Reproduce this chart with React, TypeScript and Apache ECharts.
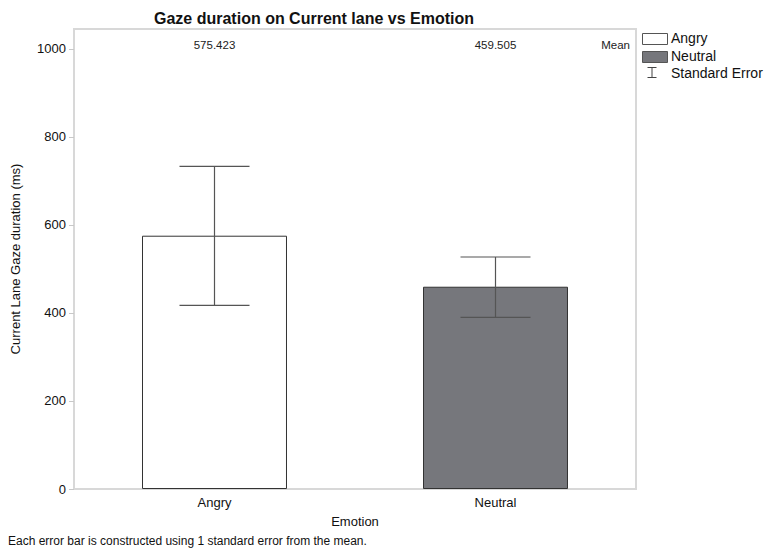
import React, { useEffect, useRef } from "react";
import * as echarts from "echarts";

const categories = ["Angry", "Neutral"];
const means = [575.423, 459.505];
const seUpper = [733, 527];
const seLower = [417, 390];
const barColors = ["#ffffff", "#76777c"];
const yTicks = [0, 200, 400, 600, 800, 1000];
const yMax = 1045;

const FONT = "Liberation Sans, Arial, Helvetica, sans-serif";

export default function App() {
  const ref = useRef<HTMLDivElement>(null);
  useEffect(() => {
    if (!ref.current) return;
    const chart = echarts.init(ref.current, null, { renderer: "svg" });
    const legendItems: any[] = [];
    categories.forEach((c, i) => {
      legendItems.push({
        type: "rect",
        left: 642,
        top: 33 + i * 18,
        shape: { width: 25, height: 11 },
        style: { fill: barColors[i], stroke: "#555", lineWidth: 1 },
      });
      legendItems.push({
        type: "text",
        left: 671,
        top: 31 + i * 18,
        style: { text: c, font: `14px ${FONT}`, fill: "#111" },
      });
    });
    legendItems.push({
      type: "group",
      left: 645,
      top: 65,
      children: [
        { type: "line", shape: { x1: 0, y1: 0, x2: 9, y2: 0 }, style: { stroke: "#444", lineWidth: 1 } },
        { type: "line", shape: { x1: 4.5, y1: 0, x2: 4.5, y2: 10 }, style: { stroke: "#444", lineWidth: 1 } },
        { type: "line", shape: { x1: 0, y1: 10, x2: 9, y2: 10 }, style: { stroke: "#444", lineWidth: 1 } },
      ],
    });
    legendItems.push({
      type: "text",
      left: 671,
      top: 66,
      style: { text: "Standard Error", font: `14px ${FONT}`, fill: "#111" },
    });

    chart.setOption({
      animation: false,
      title: {
        text: "Gaze duration on Current lane vs Emotion",
        left: 149,
        top: 5,
        textStyle: { fontFamily: FONT, fontSize: 16, fontWeight: "bold", color: "#111" },
      },
      grid: { left: 74, top: 29, right: 129, bottom: 61, show: true, borderColor: "#d8d8d8", borderWidth: 2, backgroundColor: "transparent" },
      xAxis: {
        type: "category",
        data: categories,
        name: "Emotion",
        nameLocation: "middle",
        nameGap: 26,
        nameTextStyle: { fontFamily: FONT, fontSize: 13, color: "#111" },
        axisLine: { show: false },
        axisTick: { show: false },
        axisLabel: { fontFamily: FONT, fontSize: 13, color: "#111", margin: 7 },
      },
      yAxis: {
        type: "value",
        min: 0,
        max: yMax,
        interval: 200,
        name: "Current Lane Gaze duration (ms)",
        nameLocation: "middle",
        nameGap: 52,
        nameTextStyle: { fontFamily: FONT, fontSize: 13, color: "#111" },
        axisLine: { show: false },
        axisTick: { show: true, length: 5, lineStyle: { color: "#c8c8c8" } },
        splitLine: { show: false },
        axisLabel: {
          fontFamily: FONT,
          fontSize: 13,
          color: "#111",
          margin: 8,
          showMaxLabel: false,
          formatter: (v: number) => (yTicks.includes(v) ? String(v) : ""),
        },
      },
      series: [
        {
          type: "bar",
          barWidth: "51.6%",
          data: means.map((m, i) => ({
            value: m,
            itemStyle: { color: barColors[i], borderColor: "#333", borderWidth: 1 },
          })),
          z: 2,
        },
        {
          type: "custom",
          data: categories.map((_, i) => [i, seLower[i], seUpper[i]]),
          renderItem: (params: any, api: any) => {
            const x = api.value(0);
            const lo = api.coord([x, api.value(1)]);
            const hi = api.coord([x, api.value(2)]);
            const hw = 35;
            const st = { stroke: "#555", lineWidth: 1.2 };
            return {
              type: "group",
              children: [
                { type: "line", shape: { x1: hi[0], y1: hi[1], x2: lo[0], y2: lo[1] }, style: st },
                { type: "line", shape: { x1: hi[0] - hw, y1: hi[1], x2: hi[0] + hw, y2: hi[1] }, style: st },
                { type: "line", shape: { x1: lo[0] - hw, y1: lo[1], x2: lo[0] + hw, y2: lo[1] }, style: st },
              ],
            };
          },
          z: 5,
        },
        {
          type: "custom",
          data: categories.map((_, i) => [i, means[i]]),
          renderItem: (params: any, api: any) => {
            const p = api.coord([api.value(0), yMax]);
            return {
              type: "text",
              x: p[0],
              y: p[1] + 16,
              style: {
                text: api.value(1).toFixed(3),
                font: `11.5px ${FONT}`,
                fill: "#222",
                align: "center",
                verticalAlign: "middle",
              },
            };
          },
          z: 6,
        },
      ],
      graphic: [
        {
          type: "text",
          right: 135,
          top: 39,
          style: { text: "Mean", font: `11.5px ${FONT}`, fill: "#222" },
        },
        {
          type: "text",
          left: 8,
          top: 535,
          style: { text: "Each error bar is constructed using 1 standard error from the mean.", font: `12px ${FONT}`, fill: "#111" },
        },
        ...legendItems,
      ],
    });
    return () => chart.dispose();
  }, []);
  return <div ref={ref} style={{ width: 765, height: 550, position: "absolute", left: 0, top: 0 }} />;
}
